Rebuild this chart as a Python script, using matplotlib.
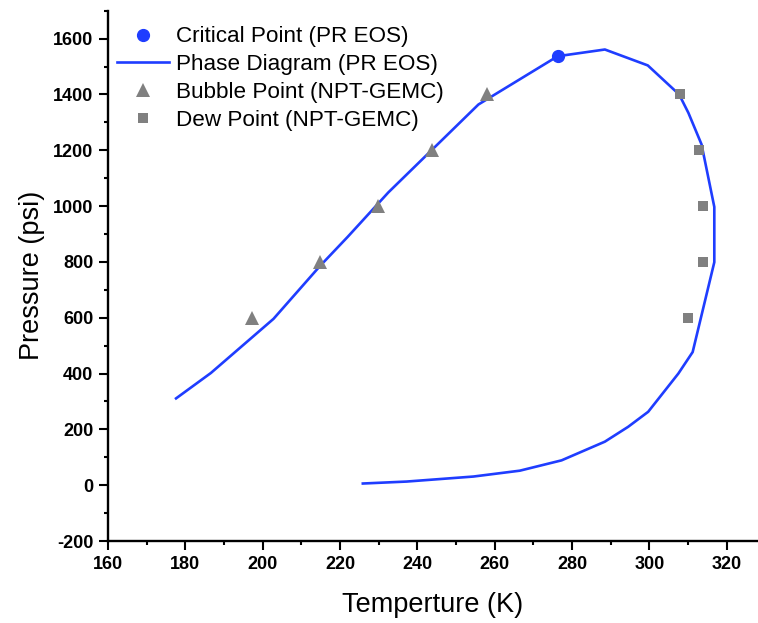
import matplotlib
matplotlib.use("Agg")
import matplotlib.pyplot as plt
from matplotlib.ticker import MultipleLocator

plt.rcParams['font.family'] = ['Liberation Sans', 'DejaVu Sans']
plt.rcParams['axes.unicode_minus'] = False

# Data
crit_T = [276.3]
crit_P = [1537]

phase_T = [177.6, 186.6, 202.8, 214.8, 222.0, 232.5, 255.8, 276.3, 288.5, 299.6,
           307.7, 310.1, 313.5, 316.8, 316.8, 311.2, 307.5, 299.7, 294.5, 288.5,
           277.3, 266.5, 254.5, 237.2, 225.9]
phase_P = [311, 402, 596, 785, 890, 1049, 1364, 1537, 1561, 1504,
           1400, 1334, 1221, 997, 799, 477, 400, 263, 209, 156,
           89, 52, 31, 13, 6]

bubble_T = [197.2, 214.9, 229.8, 243.8, 257.9]
bubble_P = [600, 800, 1000, 1200, 1400]

dew_T = [307.9, 312.8, 313.9, 313.9, 310.0]
dew_P = [1400, 1200, 1000, 800, 600]

blue = '#1f3dff'
gray = '#808080'

fig = plt.figure(figsize=(7.58, 6.23), dpi=100)
ax = fig.add_axes([0.1425, 0.1316, 0.8575, 0.8512])

ax.plot(crit_T, crit_P, 'o', color=blue, markersize=8.5, label='Critical Point (PR EOS)', zorder=4)
ax.plot(phase_T, phase_P, '-', color=blue, linewidth=1.9, label='Phase Diagram (PR EOS)', zorder=3)
ax.plot(bubble_T, bubble_P, '^', color=gray, markersize=10, markeredgewidth=0, label='Bubble Point (NPT-GEMC)', zorder=4)
ax.plot(dew_T, dew_P, 's', color=gray, markersize=7.5, markeredgewidth=0, label='Dew Point (NPT-GEMC)', zorder=4)

ax.set_xlim(160, 328.1)
ax.set_ylim(-200, 1700)
ax.xaxis.set_major_locator(MultipleLocator(20))
ax.xaxis.set_minor_locator(MultipleLocator(10))
ax.yaxis.set_major_locator(MultipleLocator(200))
ax.yaxis.set_minor_locator(MultipleLocator(100))

for s in ['top', 'right']:
    ax.spines[s].set_visible(False)
for s in ['left', 'bottom']:
    ax.spines[s].set_linewidth(1.7)

ax.tick_params(which='major', direction='out', length=6.5, width=1.5, labelsize=13, pad=4)
ax.tick_params(which='minor', direction='out', length=3, width=1.5)
for lab in ax.get_xticklabels() + ax.get_yticklabels():
    lab.set_fontweight('bold')

ax.set_xlabel('Temperture (K)', fontsize=19.5, labelpad=14)
ax.set_ylabel('Pressure (psi)', fontsize=19.5, labelpad=6)

leg = ax.legend(loc='upper left', bbox_to_anchor=(0.004, 0.983), frameon=False,
                fontsize=16.2, handlelength=2.3, handletextpad=0.3,
                labelspacing=0.3, borderaxespad=0.3, borderpad=0.0)

fig.savefig('out.png', dpi=100)
